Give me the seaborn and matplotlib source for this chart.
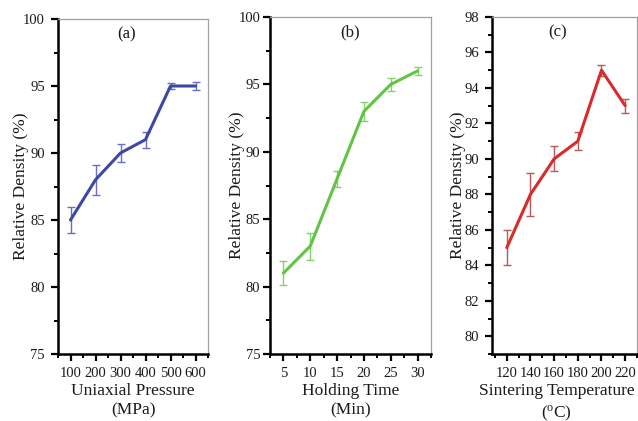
import matplotlib
matplotlib.use("Agg")
import matplotlib.pyplot as plt
import seaborn as sns
import pandas as pd
from matplotlib.ticker import MultipleLocator

# Data
pressure = [100, 200, 300, 400, 500, 600]
density_a = [85, 88, 90, 91, 95, 95]
err_a = [1.0, 1.1, 0.7, 0.6, 0.2, 0.3]

hold_time = [5, 10, 15, 20, 25, 30]
density_b = [81, 83, 88, 93, 95, 96]
err_b = [0.9, 1.0, 0.6, 0.7, 0.5, 0.3]

temperature = [120, 140, 160, 180, 200, 220]
density_c = [85, 88, 90, 91, 95, 93]
err_c = [1.0, 1.2, 0.7, 0.5, 0.3, 0.4]

sns.set_theme(style="white")
plt.rcParams['font.family'] = ['Liberation Serif', 'DejaVu Serif']
plt.rcParams['mathtext.fontset'] = 'stix'

fig = plt.figure(figsize=(6.38, 4.21), dpi=100)

panels = [
    dict(x=pressure, y=density_a, e=err_a, pos=[58/638, 1-354/421, (208-58)/638, (354-19)/421],
         line='#3b48a6', ecol='#6c6cc4', xlim=(50, 650), ylim=(75, 100), xmaj=100, xmin=50,
         ymaj=5, ymin=2.5, xlabel='Uniaxial Pressure\n(MPa)', tag='(a)', tagx=0.46,
         ypad=-4.5, ytickpad=4.5, xlab_x=0.5),
    dict(x=hold_time, y=density_b, e=err_b, pos=[270/638, 1-354/421, (431-270)/638, (354-17)/421],
         line='#62c444', ecol='#82d46a', xlim=(2.5, 32.5), ylim=(75, 100), xmaj=5, xmin=2.5,
         ymaj=5, ymin=2.5, xlabel='Holding Time\n(Min)', tag='(b)', tagx=0.5,
         ypad=-5, ytickpad=2, xlab_x=0.5),
    dict(x=temperature, y=density_c, e=err_c, pos=[492/638, 1-354/421, (637-492)/638, (354-17)/421],
         line='#dc2a2a', ecol='#b45a5a', xlim=(107.5, 230), ylim=(79, 98), xmaj=20, xmin=10,
         ymaj=2, ymin=1, xlabel='Sintering Temperature\n($\\mathregular{^{o}}$C)', tag='(c)',
         tagx=0.455, ypad=-1, ytickpad=4.5, xlab_x=0.445),
]

for p in panels:
    ax = fig.add_axes(p['pos'])
    df = pd.DataFrame({'x': p['x'], 'y': p['y']})
    ax.errorbar(p['x'], p['y'], yerr=p['e'], fmt='none', ecolor=p['ecol'],
                elinewidth=1.0, capsize=3, capthick=1.0, zorder=2)
    sns.lineplot(data=df, x='x', y='y', ax=ax, color=p['line'], linewidth=2.2, zorder=3)
    ax.set_xlim(*p['xlim'])
    ax.set_ylim(*p['ylim'])
    ax.set_xticks(p['x'])
    ax.xaxis.set_minor_locator(MultipleLocator(p['xmin']))
    ax.yaxis.set_major_locator(MultipleLocator(p['ymaj']))
    ax.yaxis.set_minor_locator(MultipleLocator(p['ymin']))
    for s in ['left', 'bottom']:
        ax.spines[s].set_color('black')
        ax.spines[s].set_linewidth(1.8)
    for s in ['top', 'right']:
        ax.spines[s].set_color('#a0a0a0')
        ax.spines[s].set_linewidth(0.9)
    ax.tick_params(which='major', direction='out', length=5, width=1.6, color='black',
                   labelsize=10.5, pad=4.5, left=True, bottom=True, labelcolor='#1a1a1a')
    ax.tick_params(axis='y', which='major', pad=p['ytickpad'])
    ax.tick_params(which='minor', direction='out', length=3, width=1.4, color='black',
                   left=True, bottom=True)
    ax.set_xlabel(p['xlabel'], fontsize=12.5, linespacing=1.32, labelpad=2,
                  color='#1a1a1a', x=p['xlab_x'])
    ax.set_ylabel('Relative Density (%)', fontsize=12.5, labelpad=p['ypad'], color='#1a1a1a')
    ax.text(p['tagx'], 0.955, p['tag'], transform=ax.transAxes, ha='center', va='center',
            fontsize=12, color='#1a1a1a')

fig.savefig('out.png', dpi=100)
